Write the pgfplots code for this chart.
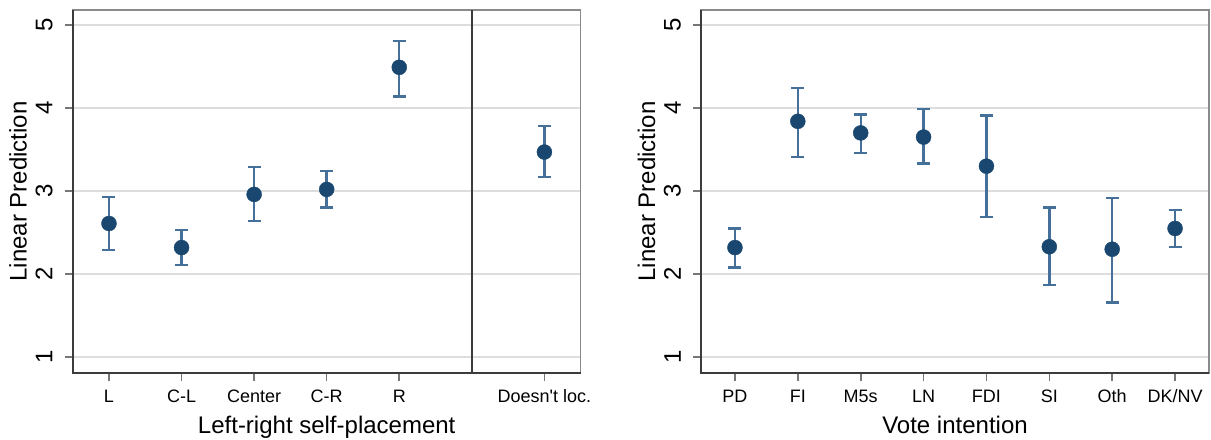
\documentclass[border=0pt]{standalone}
\usepackage{fontspec}
\setmainfont{Liberation Sans}
\usepackage{pgfplots}
\usepackage{pgfplotstable}
\pgfplotsset{compat=1.18}

\definecolor{dotc}{HTML}{1A476F}
\definecolor{barc}{HTML}{45709A}
\definecolor{gridc}{HTML}{DDDDDD}
\definecolor{framec}{HTML}{3C3C3C}
\definecolor{boxc}{HTML}{8A8A8A}
\definecolor{tickc}{HTML}{777777}

% x, point estimate, lower and upper CI bounds
\pgfplotstableread{
x y lo hi
1 2.61 2.29 2.93
2 2.32 2.11 2.53
3 2.96 2.64 3.29
4 3.02 2.80 3.24
5 4.49 4.14 4.81
7 3.47 3.17 3.78
}\lrtab

\pgfplotstableread{
x y lo hi
1 2.32 2.08 2.55
2 3.84 3.41 4.24
3 3.70 3.46 3.92
4 3.65 3.33 3.99
5 3.30 2.69 3.91
6 2.33 1.87 2.80
7 2.30 1.66 2.92
8 2.55 2.33 2.77
}\votetab

\pgfplotsset{
  panel/.style={
    scale only axis, width=508bp, height=363bp,
    ymin=0.81, ymax=5.18, ytick={1,2,3,4,5},
    ymajorgrids, grid style={gridc, line width=2bp},
    axis line style={draw=boxc, line width=1.6bp},
    tick align=outside, xtick pos=bottom, ytick pos=left,
    major tick length=8bp,
    tick style={draw=tickc, line width=1.6bp},
    clip=false,
    /pgf/number format/assume math mode=true,
    yticklabel style={xshift=-12bp, rotate=90, anchor=south, inner sep=0pt,
      font=\fontsize{24bp}{24bp}\selectfont},
    xticklabel style={yshift=-21.5bp, anchor=base, inner sep=0pt,
      font=\fontsize{18bp}{18bp}\selectfont},
    every axis x label/.style={at={([yshift=-60bp]rel axis cs:0.5,0)},
      anchor=base, inner sep=0pt, font=\fontsize{24bp}{24bp}\selectfont},
    every axis y label/.style={at={([xshift=-46bp]rel axis cs:0,0.5)},
      rotate=90, anchor=base, inner sep=0pt,
      font=\fontsize{24bp}{24bp}\selectfont},
    ylabel={Linear Prediction},
  },
  cis/.style={only marks, mark=none,
    error bars/.cd, y dir=both, y explicit,
    error bar style={barc, line width=2.4bp},
    error mark options={rotate=90, barc, mark size=6.5bp, line width=2.4bp}},
  dots/.style={only marks, mark=*, mark size=7.5bp,
    mark options={fill=dotc, draw=dotc}},
}

\begin{document}
\begin{tikzpicture}
\useasboundingbox (0,0) rectangle (1211bp,440bp);

\begin{axis}[panel, at={(72.7bp,67bp)}, anchor=south west,
  xmin=0.5, xmax=7.5,
  xtick={1,2,3,4,5,7},
  xticklabels={L,C-L,Center,C-R,R,Doesn\textquotesingle t loc.},
  xlabel={Left-right self-placement}]
\addplot[cis] table[x=x, y=y,
  y error plus expr=\thisrow{hi}-\thisrow{y},
  y error minus expr=\thisrow{y}-\thisrow{lo}] {\lrtab};
\addplot[dots] table[x=x, y=y] {\lrtab};
\draw[framec, line width=2bp] (axis cs:6,0.81) -- (axis cs:6,5.18);
\draw[framec, line width=2bp] (rel axis cs:0,1) -- (rel axis cs:0,0) -- (rel axis cs:1,0);
\end{axis}

\begin{axis}[panel, at={(701bp,67bp)}, anchor=south west,
  xmin=0.46, xmax=8.54,
  xtick={1,...,8},
  xticklabels={PD,FI,M5s,LN,FDI,SI,Oth,DK/NV},
  xlabel={Vote intention}]
\addplot[cis] table[x=x, y=y,
  y error plus expr=\thisrow{hi}-\thisrow{y},
  y error minus expr=\thisrow{y}-\thisrow{lo}] {\votetab};
\addplot[dots] table[x=x, y=y] {\votetab};
\draw[framec, line width=2bp] (rel axis cs:0,1) -- (rel axis cs:0,0) -- (rel axis cs:1,0);
\end{axis}
\end{tikzpicture}
\end{document}
